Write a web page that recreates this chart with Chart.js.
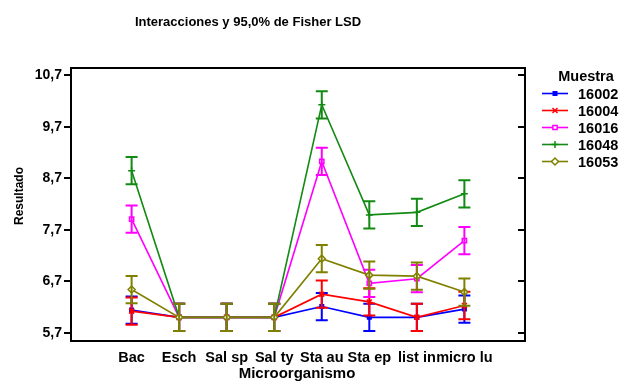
<!DOCTYPE html>
<html>
<head>
<meta charset="utf-8">
<script src="https://cdn.jsdelivr.net/npm/chart.js@4.4.0/dist/chart.umd.min.js"></script>
<style>
  html, body { margin: 0; padding: 0; background: #fff; }
</style>
</head>
<body>
<canvas id="grafico" width="621" height="383"></canvas>
<script>
// datos
const microorganismos = ['Bac', 'Esch', 'Sal sp', 'Sal ty', 'Sta au', 'Sta ep', 'list in', 'micro lu'];
const muestras = ['16002', '16004', '16016', '16048', '16053'];
const resultado16002 = [6.14, 6.0, 6.0, 6.0, 6.21, 6.0, 6.0, 6.16];
const resultado16004 = [6.12, 6.0, 6.0, 6.0, 6.45, 6.30, 6.0, 6.23];
const resultado16016 = [7.91, 6.0, 6.0, 6.0, 9.03, 6.66, 6.75, 7.49];
const resultado16048 = [8.85, 6.0, 6.0, 6.0, 10.13, 7.99, 8.04, 8.40];
const resultado16053 = [6.54, 6.0, 6.0, 6.0, 7.14, 6.82, 6.80, 6.49];
const lsdMedio = 0.265; // mitad del intervalo LSD
const yTicks = [5.7, 6.7, 7.7, 8.7, 9.7, 10.7];

const FUENTE = "'Liberation Sans', Arial, sans-serif";
const colores = ['#0000ff', '#ff0000', '#ff00ff', '#138a13', '#808000'];
const estilos = [
    { pointStyle: 'rect', radius: 2.5, relleno: true },
    { pointStyle: 'crossRot', radius: 3.5, relleno: false },
    { pointStyle: 'rect', radius: 3, relleno: false },
    { pointStyle: 'cross', radius: 3.5, relleno: false },
    { pointStyle: 'rectRot', radius: 3.5, relleno: false }
];
const series = [resultado16002, resultado16004, resultado16016, resultado16048, resultado16053];

const datasets = series.map((valores, i) => ({
    label: muestras[i],
    data: valores.map((v, j) => ({ x: j, y: v })),
    borderColor: colores[i],
    backgroundColor: estilos[i].relleno ? colores[i] : '#ffffff',
    borderWidth: 1.6,
    pointStyle: estilos[i].pointStyle,
    pointRadius: estilos[i].radius,
    pointBorderWidth: 1.5,
    pointBorderColor: colores[i],
    pointBackgroundColor: estilos[i].relleno ? colores[i] : '#ffffff',
    order: series.length - i,
    tension: 0
}));

// barras de error LSD dibujadas con cada serie
const barrasError = {
    id: 'barrasError',
    afterDatasetDraw(chart, args) {
        const ctx = chart.ctx;
        const yScale = chart.scales.y;
        const color = colores[args.index];
        ctx.save();
        ctx.strokeStyle = color;
        ctx.lineWidth = 2;
        args.meta.data.forEach((pt, j) => {
            const v = series[args.index][j];
            const yTop = yScale.getPixelForValue(v + lsdMedio);
            const yBot = yScale.getPixelForValue(v - lsdMedio);
            const x = pt.x;
            ctx.beginPath();
            ctx.moveTo(x, yTop);
            ctx.lineTo(x, yBot);
            ctx.moveTo(x - 6, yTop);
            ctx.lineTo(x + 6, yTop);
            ctx.moveTo(x - 6, yBot);
            ctx.lineTo(x + 6, yBot);
            ctx.stroke();
        });
        ctx.restore();
    }
};

// marco, titulos y leyenda
const decoracion = {
    id: 'decoracion',
    afterDraw(chart) {
        const ctx = chart.ctx;
        const a = chart.chartArea;
        const yScale = chart.scales.y;
        ctx.save();
        ctx.strokeStyle = '#000';
        ctx.lineWidth = 2;
        ctx.strokeRect(a.left, a.top, a.right - a.left, a.bottom - a.top);
        // marcas del lado derecho
        ctx.beginPath();
        yTicks.forEach(v => {
            const y = Math.round(yScale.getPixelForValue(v));
            ctx.moveTo(a.right - 7, y);
            ctx.lineTo(a.right, y);
        });
        ctx.stroke();

        ctx.fillStyle = '#000';
        ctx.textAlign = 'center';
        ctx.textBaseline = 'middle';
        ctx.font = 'bold 13px ' + FUENTE;
        ctx.fillText('Interacciones y 95,0% de Fisher LSD', 248, 22);
        ctx.font = 'bold 15px ' + FUENTE;
        ctx.fillText('Microorganismo', 297, 374);
        ctx.save();
        ctx.translate(20, 196);
        ctx.rotate(-Math.PI / 2);
        ctx.font = 'bold 12px ' + FUENTE;
        ctx.fillText('Resultado', 0, 0);
        ctx.restore();

        // leyenda
        ctx.font = 'bold 14.5px ' + FUENTE;
        ctx.fillText('Muestra', 586, 77);
        ctx.textAlign = 'left';
        muestras.forEach((m, i) => {
            const y = 93.5 + i * 17;
            ctx.strokeStyle = colores[i];
            ctx.lineWidth = 1.6;
            ctx.beginPath();
            ctx.moveTo(542, y);
            ctx.lineTo(568, y);
            ctx.stroke();
            ctx.fillStyle = estilos[i].relleno ? colores[i] : '#ffffff';
            ctx.strokeStyle = colores[i];
            ctx.lineWidth = 1.5;
            Chart.helpers.drawPoint(ctx, {
                pointStyle: estilos[i].pointStyle,
                radius: estilos[i].radius,
                borderWidth: 1.5
            }, 555, y);
            ctx.fillStyle = '#000';
            ctx.fillText(m, 578, y + 1);
        });
        ctx.restore();
    }
};

new Chart(document.getElementById('grafico').getContext('2d'), {
    type: 'line',
    data: { datasets: datasets },
    options: {
        responsive: false,
        animation: false,
        events: [],
        layout: { padding: { top: 68, right: 96, left: 0, bottom: 0 } },
        plugins: {
            legend: { display: false },
            title: { display: false },
            tooltip: { enabled: false }
        },
        scales: {
            x: {
                type: 'linear',
                min: -1.275,
                max: 8.275,
                afterBuildTicks: (scale) => {
                    scale.ticks = microorganismos.map((_, i) => ({ value: i }));
                },
                afterFit: (scale) => { scale.height = 42; },
                grid: { display: false },
                border: { display: false },
                ticks: {
                    autoSkip: false,
                    maxRotation: 0,
                    padding: 0,
                    color: '#000',
                    font: { family: FUENTE, size: 14.5, weight: 'bold' },
                    callback: (v) => microorganismos[v]
                }
            },
            y: {
                min: 5.54,
                max: 10.845,
                afterBuildTicks: (scale) => {
                    scale.ticks = yTicks.map(v => ({ value: v }));
                },
                afterFit: (scale) => { scale.width = 71; },
                grid: { drawOnChartArea: false, tickLength: 7, color: '#000', lineWidth: 2 },
                border: { display: false },
                ticks: {
                    padding: 2,
                    color: '#000',
                    font: { family: FUENTE, size: 14, weight: 'bold' },
                    callback: (v) => v.toFixed(1).replace('.', ',')
                }
            }
        }
    },
    plugins: [barrasError, decoracion]
});
</script>
</body>
</html>
